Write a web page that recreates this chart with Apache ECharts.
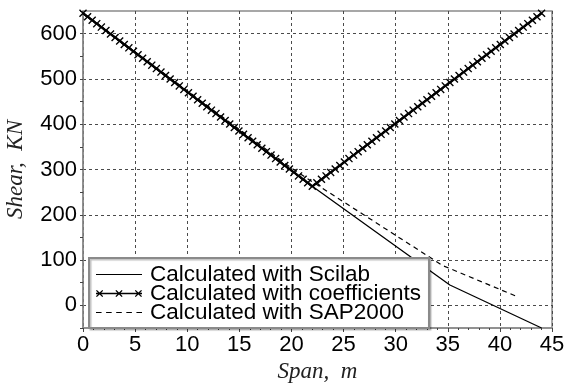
<!DOCTYPE html>
<html>
<head>
<meta charset="utf-8">
<script src="https://cdn.jsdelivr.net/npm/echarts@6/dist/echarts.min.js"></script>
<style>
  html, body { margin: 0; padding: 0; background: #fff; }
  #chart { width: 568px; height: 383px; }
</style>
</head>
<body>
<div id="chart"></div>
<script>
// Shear force along the span, three calculation methods
const seriesNames = [
  'Calculated with Scilab',
  'Calculated with coefficients',
  'Calculated with SAP2000'
];

// Scilab result (span in m, shear in kN)
const scilabSpan  = [0, 22, 35.2, 44];
const scilabShear = [645, 263, 45, -50];

// Coefficient method, sampled every 0.44 m
const coefSpan = [
  0, 0.44, 0.88, 1.32, 1.76, 2.2, 2.64, 3.08, 3.52, 3.96,
  4.4, 4.84, 5.28, 5.72, 6.16, 6.6, 7.04, 7.48, 7.92, 8.36,
  8.8, 9.24, 9.68, 10.12, 10.56, 11, 11.44, 11.88, 12.32, 12.76,
  13.2, 13.64, 14.08, 14.52, 14.96, 15.4, 15.84, 16.28, 16.72, 17.16,
  17.6, 18.04, 18.48, 18.92, 19.36, 19.8, 20.24, 20.68, 21.12, 21.56,
  22, 22.44, 22.88, 23.32, 23.76, 24.2, 24.64, 25.08, 25.52, 25.96,
  26.4, 26.84, 27.28, 27.72, 28.16, 28.6, 29.04, 29.48, 29.92, 30.36,
  30.8, 31.24, 31.68, 32.12, 32.56, 33, 33.44, 33.88, 34.32, 34.76,
  35.2, 35.64, 36.08, 36.52, 36.96, 37.4, 37.84, 38.28, 38.72, 39.16,
  39.6, 40.04, 40.48, 40.92, 41.36, 41.8, 42.24, 42.68, 43.12, 43.56,
  44
];
const coefShear = [
  645, 637.4, 629.7, 622.1, 614.4, 606.8, 599.2, 591.5, 583.9, 576.2,
  568.6, 561.0, 553.3, 545.7, 538.0, 530.4, 522.8, 515.1, 507.5, 499.8,
  492.2, 484.6, 476.9, 469.3, 461.6, 454.0, 446.4, 438.7, 431.1, 423.4,
  415.8, 408.2, 400.5, 392.9, 385.2, 377.6, 370.0, 362.3, 354.7, 347.0,
  339.4, 331.8, 324.1, 316.5, 308.8, 301.2, 293.6, 285.9, 278.3, 270.6,
  263.0, 270.6, 278.3, 285.9, 293.6, 301.2, 308.8, 316.5, 324.1, 331.8,
  339.4, 347.0, 354.7, 362.3, 370.0, 377.6, 385.2, 392.9, 400.5, 408.2,
  415.8, 423.4, 431.1, 438.7, 446.4, 454.0, 461.6, 469.3, 476.9, 484.6,
  492.2, 499.8, 507.5, 515.1, 522.8, 530.4, 538.0, 545.7, 553.3, 561.0,
  568.6, 576.2, 583.9, 591.5, 599.2, 606.8, 614.4, 622.1, 629.7, 637.4,
  645
];

// SAP2000 result
const sapSpan  = [0, 20, 22, 34.5, 41.8];
const sapShear = [645, 303, 273, 88, 18];

// Axis ticks
const shearTicks = [0, 100, 200, 300, 400, 500, 600];

const pairs = (xs, ys) => xs.map((x, i) => [x, ys[i]]);

// Filled outline of an "x" centred on (cx, cy), half-size h, arm thickness t
function crossPath(cx, cy, h, t) {
  const pts = [
    [-h, -h + t], [-h + t, -h], [0, -t], [h - t, -h], [h, -h + t], [t, 0],
    [h, h - t], [h - t, h], [0, t], [-h + t, h], [-h, h - t], [-t, 0]
  ];
  return 'M' + pts.map(p => (cx + p[0]).toFixed(2) + ',' + (cy + p[1]).toFixed(2)).join('L') + 'Z';
}

const crossMark = 'path://' + crossPath(5, 5, 5, 1.2);

// legend samples
const solidIcon = 'path://M0,5.4H46V6.6H0Z';
const dashIcon = 'path://M0,5.4H5.5V6.6H0Z M10,5.4H15.5V6.6H10Z M20,5.4H25.5V6.6H20Z' +
  'M30,5.4H35.5V6.6H30Z M40,5.4H45.5V6.6H40Z';
const crossIcon = 'path://M0,5.35H46V6.65H0Z' +
  crossPath(3.6, 6, 3.6, 0.9) + crossPath(23, 6, 3.6, 0.9) + crossPath(42.4, 6, 3.6, 0.9);

const chart = echarts.init(document.getElementById('chart'), null, { renderer: 'canvas' });

const gridColor = '#4a4a4a';
const frameColor = '#8a8a8a';

chart.setOption({
  animation: false,
  backgroundColor: '#fff',
  grid: {
    left: 83, right: 16, top: 11, bottom: 55,
    outerBoundsMode: 'none',
    containLabel: false,
    show: true, borderColor: frameColor, borderWidth: 1.5,
    backgroundColor: 'transparent'
  },
  legend: {
    z: 20,
    orient: 'vertical',
    left: 89, top: 258,
    padding: [5, 8, 4, 7],
    itemGap: -4,
    itemWidth: 46,
    itemHeight: 12,
    backgroundColor: '#fff',
    borderColor: frameColor,
    borderWidth: 2,
    shadowColor: 'rgba(0,0,0,0.25)',
    shadowOffsetX: 1.5, shadowOffsetY: 1.5, shadowBlur: 1,
    textStyle: {
      fontFamily: 'Liberation Sans', fontSize: 22.5, lineHeight: 19.5,
      color: '#000', padding: [0, 0, 0, 3]
    },
    data: [
      { name: seriesNames[0], icon: solidIcon },
      { name: seriesNames[1], icon: crossIcon },
      { name: seriesNames[2], icon: dashIcon }
    ]
  },
  xAxis: {
    type: 'value', min: 0, max: 45, interval: 5,
    name: 'Span,  m', nameLocation: 'middle', nameGap: 31,
    nameTextStyle: { fontFamily: 'Liberation Serif', fontStyle: 'italic', fontSize: 23, color: '#222' },
    axisLine: { show: true, onZero: false, lineStyle: { color: frameColor, width: 1.5 } },
    axisTick: { show: true, inside: false, length: 4, lineStyle: { color: '#444' } },
    minorTick: { show: true, splitNumber: 5, length: 2, lineStyle: { color: '#444' } },
    axisLabel: {
      margin: 6, fontFamily: 'Liberation Sans', fontSize: 22, color: '#000'
    },
    splitLine: { show: true, lineStyle: { color: gridColor, type: [3, 3], width: 1 } }
  },
  yAxis: {
    type: 'value', min: -50, max: 650, interval: 50,
    name: 'Shear,  KN', nameLocation: 'middle', nameGap: 56,
    nameTextStyle: { fontFamily: 'Liberation Serif', fontStyle: 'italic', fontSize: 23, color: '#222' },
    axisLine: { show: true, onZero: false, lineStyle: { color: frameColor, width: 1.5 } },
    axisTick: { show: true, length: 3, lineStyle: { color: '#444' } },
    axisLabel: {
      margin: 6, fontFamily: 'Liberation Sans', fontSize: 22, color: '#000',
      formatter: v => (shearTicks.indexOf(v) >= 0 ? String(v) : '')
    },
    splitLine: {
      show: true,
      lineStyle: { color: ['rgba(0,0,0,0)', gridColor], type: [3, 3], width: 1 }
    }
  },
  series: [
    {
      name: seriesNames[0], type: 'line',
      data: pairs(scilabSpan, scilabShear),
      symbol: 'none',
      lineStyle: { color: '#000', width: 1.3 },
      itemStyle: { color: '#000' },
      z: 2
    },
    {
      name: seriesNames[1], type: 'line',
      data: pairs(coefSpan, coefShear),
      symbol: crossMark, symbolSize: 8, showAllSymbol: true,
      lineStyle: { color: '#000', width: 2.2 },
      itemStyle: { color: '#000' },
      z: 3
    },
    {
      name: seriesNames[2], type: 'line',
      data: pairs(sapSpan, sapShear),
      symbol: 'none',
      lineStyle: { color: '#000', width: 1.2, type: [5, 4] },
      itemStyle: { color: '#000' },
      z: 2
    }
  ]
});
</script>
</body>
</html>
